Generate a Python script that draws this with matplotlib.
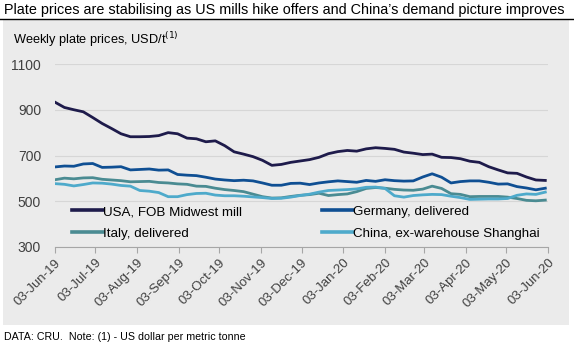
import numpy as np
import pandas as pd
import matplotlib
matplotlib.use("Agg")
import matplotlib.pyplot as plt
import matplotlib.dates as mdates
from matplotlib.patches import Rectangle
from matplotlib.lines import Line2D

plt.rcParams["font.family"] = ["Liberation Sans", "DejaVu Sans"]

# weekly dates, first week 03-Jun-19
dates = pd.date_range("2019-06-03", periods=53, freq="7D")

usa = [933, 910, 900, 891, 866, 840, 818, 795, 782, 782,
       783, 787, 800, 795, 776, 773, 760, 764, 743, 716,
       706, 695, 679, 657, 661, 670, 676, 682, 692, 708,
       717, 722, 719, 729, 734, 731, 727, 715, 710, 704,
       706, 692, 691, 686, 675, 670, 651, 637, 624, 622,
       606, 593, 591]
germany = [650, 654, 653, 663, 665, 648, 649, 651, 637, 639,
           641, 636, 637, 617, 614, 612, 605, 597, 593, 590,
           592, 589, 580, 570, 570, 578, 579, 573, 580, 585,
           589, 586, 583, 591, 587, 594, 590, 588, 589, 606,
           620, 605, 580, 586, 589, 589, 583, 575, 576, 564,
           558, 550, 557]
italy = [594, 601, 598, 602, 603, 596, 593, 590, 585, 586,
         587, 582, 580, 576, 574, 566, 565, 557, 551, 547,
         542, 531, 520, 514, 515, 521, 526, 529, 535, 525,
         529, 532, 542, 556, 560, 557, 552, 549, 548, 553,
         566, 556, 533, 530, 520, 521, 521, 521, 518, 512,
         504, 502, 505]
china = [577, 574, 567, 573, 580, 579, 575, 569, 566, 547,
         544, 538, 520, 520, 529, 534, 535, 527, 524, 524,
         522, 519, 516, 512, 513, 518, 525, 531, 540, 547,
         549, 551, 554, 561, 562, 556, 524, 518, 525, 528,
         530, 529, 522, 516, 508, 509, 510, 510, 512, 526,
         532, 530, 540]

series_names = ["USA, FOB Midwest mill", "Germany, delivered",
                "Italy, delivered", "China, ex-warehouse Shanghai"]
series_colors = ["#1e1b4b", "#0f4f93", "#4a8b92", "#4eaacb"]

fig = plt.figure(figsize=(5.74, 3.49), dpi=100)
fig.patch.set_facecolor("white")

# grey panel behind the chart
fig.patches.append(Rectangle((3 / 574, 1 - 325 / 349), 566 / 574, 306 / 349,
                             transform=fig.transFigure, facecolor="#ebebeb",
                             edgecolor="none", zorder=-10))
# title rule
fig.add_artist(Line2D([0, 1], [1 - 18.5 / 349] * 2, transform=fig.transFigure,
                      color="black", linewidth=1.0))

fig.text(4 / 574, 1 - 10 / 349, "Plate prices are stabilising as US mills hike offers and China\u2019s demand picture improves",
         fontsize=10.4, va="center", ha="left", color="black")
fig.text(13 / 574, 1 - 40 / 349, "Weekly plate prices, USD/t$^{(1)}$",
         fontsize=9.2, va="center", ha="left", color="black")
fig.text(4 / 574, 1 - 337 / 349, "DATA: CRU.  Note: (1) - US dollar per metric tonne",
         fontsize=7.7, va="center", ha="left", color="black")

ax = fig.add_axes([55 / 574, 1 - 247 / 349, 493 / 574, 183 / 349])
ax.set_facecolor("none")
ax.set_zorder(5)

lines = {}
for vals, name, col in zip([usa, germany, italy, china], series_names, series_colors):
    lines[name], = ax.plot(dates, vals, color=col, linewidth=2.0, label=name)

ax.set_ylim(300, 1100)
ax.set_yticks(range(300, 1101, 200))
ax.set_xlim(pd.Timestamp("2019-06-03"), pd.Timestamp("2020-06-03"))
tick_dates = pd.date_range("2019-06-01", "2020-06-03", freq="MS") + pd.Timedelta(days=2)
ax.set_xticks(tick_dates)
ax.xaxis.set_major_formatter(mdates.DateFormatter("%d-%b-%y"))

ax.grid(axis="y", color="#d6d6d6", linewidth=0.8)
ax.set_axisbelow(True)
for side in ["top", "right", "left"]:
    ax.spines[side].set_visible(False)
ax.spines["bottom"].set_color("#a6a6a6")
ax.tick_params(axis="y", length=0, labelsize=10, labelcolor="#404040", pad=10)
ax.tick_params(axis="x", length=4, color="#a6a6a6", labelsize=9.5, labelcolor="#404040", pad=3)
for lab in ax.get_xticklabels():
    lab.set_rotation(45)
    lab.set_ha("right")
    lab.set_rotation_mode("anchor")

# row-wise legend order: USA, Germany / Italy, China
order = [series_names[0], series_names[2], series_names[1], series_names[3]]
leg = ax.legend([lines[n] for n in order], order, ncol=2, loc="upper left",
                bbox_to_anchor=(0.035, 0.225), frameon=False,
                fontsize=9.6, handlelength=2.3, handletextpad=0.0, columnspacing=6.0,
                labelspacing=0.68, borderaxespad=0, borderpad=0)
for h in leg.legend_handles:
    h.set_linewidth(2.6)

fig.savefig("out.png", dpi=100)
